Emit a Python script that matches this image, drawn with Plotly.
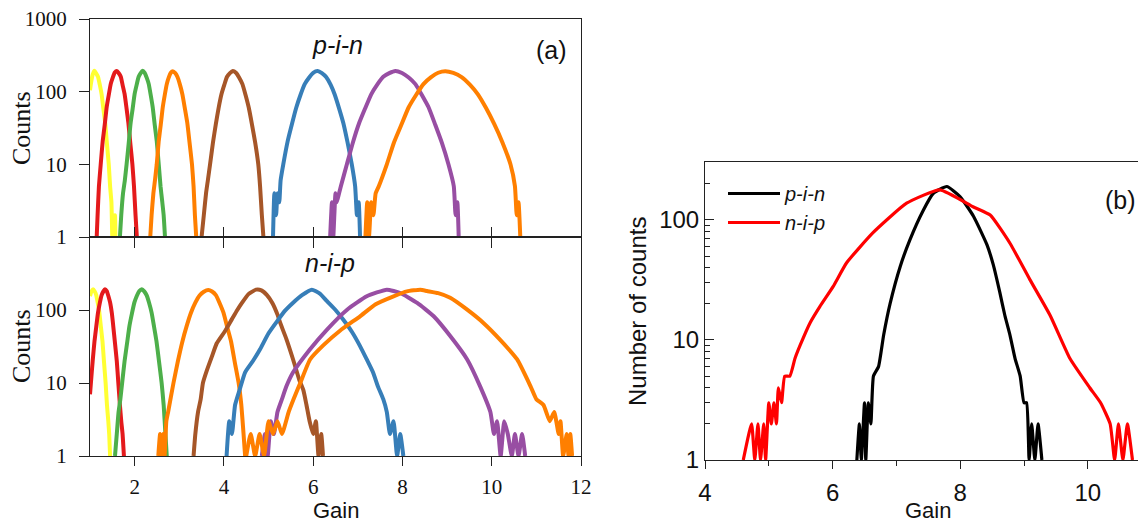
import plotly.graph_objects as go

# ---------------- colours (ColorBrewer Set1 as in the figure) ----------------
YELLOW, RED, GREEN, ORANGE = "#FFFF33", "#E41A1C", "#4DAF4A", "#FF7F00"
BROWN, BLUE, PURPLE = "#A65628", "#377EB8", "#984EA3"

# ---------------- panel (a) top : p-i-n gain distributions ----------------
pin_yellow_gain = [1.00, 1.03, 1.06, 1.10, 1.14, 1.18, 1.22, 1.26, 1.30, 1.34, 1.38, 1.42, 1.45, 1.48, 1.50, 1.52, 1.54, 1.56, 1.57]
pin_yellow_counts = [105, 140, 172, 194, 178, 160, 124, 92, 58, 37, 19, 10, 5, 3, 1, 2, 1, 2, 1]

pin_red_gain = [1.15, 1.17, 1.20, 1.24, 1.285, 1.33, 1.375, 1.42, 1.465, 1.51, 1.555, 1.60, 1.645, 1.69, 1.73, 1.775, 1.82, 1.86, 1.905, 1.95, 1.985, 2.02, 2.05]
pin_red_counts = [1, 2, 5, 10, 21, 35, 62, 90, 128, 156, 183, 192, 179, 160, 124, 93, 58, 37, 19, 10, 5, 2, 1]

pin_green_gain = [1.67, 1.70, 1.74, 1.78, 1.82, 1.865, 1.91, 1.955, 2.00, 2.045, 2.09, 2.135, 2.18, 2.225, 2.27, 2.315, 2.36, 2.405, 2.45, 2.495, 2.54, 2.58, 2.62, 2.65, 2.68]
pin_green_counts = [1, 2, 4, 6, 10, 19, 37, 58, 93, 124, 160, 180, 194, 182, 156, 128, 90, 61, 35, 21, 10, 5, 3, 2, 1]

pin_orange1_gain = [2.35, 2.38, 2.42, 2.455, 2.495, 2.54, 2.585, 2.63, 2.675, 2.72, 2.765, 2.81, 2.855, 2.91, 2.96, 3.015, 3.07, 3.125, 3.18, 3.23, 3.285, 3.32, 3.35, 3.38]
pin_orange1_counts = [1, 2, 4, 6, 10, 21, 35, 61, 90, 127, 157, 182, 191, 180, 159, 125, 92, 59, 37, 20, 10, 5, 2, 1]

pin_brown_gain = [3.50, 3.55, 3.60, 3.64, 3.69, 3.755, 3.82, 3.88, 3.945, 4.01, 4.07, 4.135, 4.20, 4.27, 4.34, 4.415, 4.485, 4.555, 4.63, 4.70, 4.77, 4.81, 4.85, 4.885]
pin_brown_counts = [1, 2, 4, 6, 10, 20, 36, 59, 92, 125, 160, 180, 193, 182, 157, 127, 90, 61, 35, 20, 10, 5, 2, 1]

pin_blue_gain = [5.10, 5.13, 5.17, 5.20, 5.24, 5.27, 5.33, 5.43, 5.52, 5.62, 5.715, 5.81, 5.91, 6.00, 6.10, 6.195, 6.29, 6.39, 6.48, 6.58, 6.675, 6.77, 6.865, 6.94, 6.98, 7.02, 7.05]
pin_blue_counts = [1, 4, 2, 4, 3, 6, 10, 21, 35, 60, 90, 127, 157, 182, 192, 180, 159, 125, 92, 59, 37, 20, 10, 5, 2, 3, 1]

pin_purple_gain = [6.38, 6.42, 6.45, 6.50, 6.53, 6.58, 6.62, 6.755, 6.89, 7.03, 7.165, 7.30, 7.435, 7.57, 7.705, 7.84, 7.99, 8.14, 8.29, 8.435, 8.585, 8.735, 8.88, 9.03, 9.15, 9.19, 9.23, 9.26]
pin_purple_counts = [1, 3, 1, 4, 3, 4, 5, 10, 20, 37, 59, 92, 125, 160, 180, 193, 181, 157, 127, 90, 61, 35, 20, 10, 5, 2, 3, 1]

pin_orange2_gain = [7.17, 7.21, 7.25, 7.30, 7.35, 7.40, 7.47, 7.65, 7.81, 7.975, 8.14, 8.305, 8.47, 8.635, 8.80, 8.96, 9.14, 9.325, 9.51, 9.69, 9.87, 10.055, 10.24, 10.42, 10.52, 10.56, 10.60, 10.64]
pin_orange2_counts = [1, 3, 1, 3, 2, 4, 5, 10, 20, 35, 61, 90, 127, 157, 182, 191, 181, 159, 125, 92, 60, 36, 20, 10, 5, 2, 3, 1]

# ---------------- panel (a) bottom : n-i-p gain distributions ----------------
nip_yellow_gain = [1.00, 1.03, 1.07, 1.105, 1.14, 1.175, 1.21, 1.245, 1.28, 1.315, 1.35, 1.38, 1.41, 1.43, 1.45]
nip_yellow_counts = [155, 178, 192, 180, 160, 124, 92, 58, 37, 19, 10, 5, 3, 2, 1]

nip_red_gain = [1.00, 1.02, 1.06, 1.10, 1.14, 1.18, 1.22, 1.26, 1.30, 1.336, 1.375, 1.41, 1.45, 1.49, 1.52, 1.56, 1.60, 1.635, 1.67, 1.70, 1.73, 1.76]
nip_red_counts = [7, 10, 20, 37, 59, 92, 125, 160, 180, 193, 182, 157, 127, 90, 61, 35, 20, 10, 5, 3, 2, 1]

nip_green_gain = [1.56, 1.60, 1.64, 1.68, 1.72, 1.775, 1.83, 1.885, 1.94, 1.995, 2.05, 2.105, 2.16, 2.215, 2.27, 2.325, 2.38, 2.435, 2.49, 2.545, 2.605, 2.65, 2.69, 2.72]
nip_green_counts = [1, 2, 4, 6, 10, 20, 35, 61, 90, 127, 157, 182, 193, 180, 159, 125, 92, 59, 37, 20, 10, 5, 2, 1]

nip_orange1_gain = [2.53, 2.57, 2.60, 2.64, 2.67, 2.71, 2.75, 2.87, 2.97, 3.065, 3.165, 3.26, 3.36, 3.455, 3.55, 3.65, 3.735, 3.82, 3.905, 3.99, 4.075, 4.16, 4.245, 4.33, 4.39, 4.44, 4.475]
nip_orange1_counts = [1, 2, 1, 2, 1, 3, 4, 10, 20, 36, 60, 91, 126, 158, 178, 188, 179, 160, 124, 92, 58, 37, 19, 10, 5, 2, 1]

nip_brown_gain = [3.32, 3.36, 3.42, 3.48, 3.53, 3.62, 3.73, 3.84, 4.03, 4.18, 4.30, 4.40, 4.55, 4.72, 4.84, 4.965, 5.085, 5.205, 5.26, 5.40, 5.55, 5.69, 5.78, 5.85, 5.92, 6.00, 6.06, 6.12, 6.18, 6.22]
nip_brown_counts = [1, 2, 4, 6, 10, 15, 23, 35, 52, 75, 100, 124, 165, 190, 186, 160, 125, 85, 67, 40, 21, 11, 8, 5, 3, 2, 3, 1, 2, 1]

nip_blue_gain = [4.06, 4.12, 4.18, 4.25, 4.35, 4.475, 4.65, 4.81, 5.00, 5.19, 5.37, 5.55, 5.75, 5.97, 6.15, 6.31, 6.50, 6.68, 6.87, 7.05, 7.20, 7.34, 7.45, 7.57, 7.65, 7.72, 7.80, 7.88, 7.95, 8.02]
nip_blue_counts = [1, 3, 2, 5, 8, 14, 20, 29, 48, 70, 98, 126, 160, 190, 168, 132, 100, 73, 50, 32, 21, 14, 9, 6, 4, 2, 3, 1, 2, 1]

nip_purple_gain = [4.85, 4.92, 4.98, 5.05, 5.12, 5.20, 5.30, 5.40, 5.55, 5.93, 6.31, 6.76, 7.20, 7.65, 7.95, 8.33, 8.70, 9.07, 9.45, 9.74, 9.97, 10.05, 10.12, 10.20, 10.28, 10.36, 10.45, 10.52, 10.60, 10.68, 10.75]
nip_purple_counts = [1, 2, 1, 3, 2, 4, 6, 9, 14, 29, 54, 101, 154, 190, 171, 125, 82, 44, 21, 9, 4, 2, 3, 1, 3, 2, 1, 2, 1, 2, 1]

nip_orange2_gain = [4.50, 4.60, 4.70, 4.80, 4.90, 5.00, 5.10, 5.20, 5.30, 5.45, 5.56, 5.71, 5.93, 6.23, 6.60, 7.05, 7.40, 7.80, 8.10, 8.40, 8.55, 8.80, 9.07, 9.45, 9.82, 10.19, 10.57, 10.87, 11.00, 11.16, 11.30, 11.40, 11.50, 11.54, 11.60, 11.68, 11.72, 11.76, 11.80]
nip_orange2_counts = [1, 2, 1, 2, 1, 3, 2, 3, 2, 4, 6, 10, 21, 33, 52, 82, 120, 154, 180, 190, 182, 170, 147, 101, 66, 39, 21, 9, 6, 5, 3, 4, 2, 3, 1, 2, 1, 2, 1]

# ---------------- panel (b) : comparison at similar mean gain ----------------
b_pin_gain = [6.38, 6.42, 6.45, 6.50, 6.52, 6.56, 6.60, 6.64, 6.72, 6.80, 6.90, 7.06, 7.21, 7.42, 7.58, 7.79, 8.00, 8.21, 8.42, 8.52, 8.62, 8.70, 8.78, 8.86, 8.94, 9.00, 9.04, 9.08, 9.12, 9.17, 9.22, 9.28]
b_pin_counts = [1, 2, 1, 3, 1, 3, 2, 5, 6, 11, 20, 41, 68, 120, 167, 190, 156, 107, 62, 42, 25, 16, 11, 7, 5, 3, 3, 1, 2, 1, 2, 1]

b_nip_gain = [4.60, 4.73, 4.78, 4.83, 4.87, 4.92, 4.95, 5.00, 5.04, 5.08, 5.12, 5.15, 5.20, 5.25, 5.33, 5.41, 5.49, 5.65, 5.80, 6.01, 6.22, 6.63, 7.16, 7.68, 8.20, 8.47, 8.78, 9.09, 9.41, 9.72, 10.03, 10.20, 10.35, 10.42, 10.48, 10.55, 10.62, 10.70]
b_nip_counts = [1, 2, 1, 2, 1, 2, 1, 3, 2, 3, 2, 4, 3, 5, 5, 7, 9, 14, 19, 28, 44, 78, 138, 178, 129, 110, 64, 32, 16, 7, 4, 3, 2, 1, 2, 1, 2, 1]

# tick labels
a_xticks = [2, 4, 6, 8, 10, 12]
a_top_yticks = [1, 10, 100, 1000]
a_bot_yticks = [1, 10, 100]
b_xticks = [4, 6, 8, 10]
b_xminor = [5, 7, 9]
b_yticks = [1, 10, 100]
b_yminor = [2, 3, 4, 5, 6, 7, 8, 9, 20, 30, 40, 50, 60, 70, 80, 90, 200, 300]

# The page body has an 8 px margin, so the figure is drawn 8 px in from the
# window corner; the figure is sized to fill the rest of the 1146x522 window.
OFF = 8
W, H = 1146 - OFF, 522 - OFF
SERIF = "Liberation Serif"
SANS = "Liberation Sans"
AX = "#222222"


def fx(px):
    return (px - OFF) / W


def fy(py):
    return 1 - (py - OFF) / H


fig = go.Figure()


def add(gx, cy, color, xa, ya, width=4.0, name=None, legend=False):
    fig.add_trace(go.Scatter(
        x=gx, y=cy, mode="lines", xaxis=xa, yaxis=ya, name=name,
        showlegend=legend, hoverinfo="skip",
        line=dict(color=color, width=width, shape="spline", smoothing=0.45)))


top = [(pin_yellow_gain, pin_yellow_counts, YELLOW), (pin_red_gain, pin_red_counts, RED),
       (pin_green_gain, pin_green_counts, GREEN), (pin_orange1_gain, pin_orange1_counts, ORANGE),
       (pin_brown_gain, pin_brown_counts, BROWN), (pin_blue_gain, pin_blue_counts, BLUE),
       (pin_purple_gain, pin_purple_counts, PURPLE), (pin_orange2_gain, pin_orange2_counts, ORANGE)]
bot = [(nip_yellow_gain, nip_yellow_counts, YELLOW), (nip_red_gain, nip_red_counts, RED),
       (nip_green_gain, nip_green_counts, GREEN), (nip_orange1_gain, nip_orange1_counts, ORANGE),
       (nip_brown_gain, nip_brown_counts, BROWN), (nip_blue_gain, nip_blue_counts, BLUE),
       (nip_purple_gain, nip_purple_counts, PURPLE), (nip_orange2_gain, nip_orange2_counts, ORANGE)]
for gx, cy, c in top:
    add(gx, cy, c, "x", "y")
for gx, cy, c in bot:
    add(gx, cy, c, "x2", "y2")
add(b_pin_gain, b_pin_counts, "#000000", "x3", "y3", width=3.2, name="<i>p-i-n</i>", legend=True)
add(b_nip_gain, b_nip_counts, "#FF0000", "x3", "y3", width=3.2, name="<i>n-i-p</i>", legend=True)

axcommon = dict(showgrid=False, zeroline=False, showline=True, linecolor=AX, linewidth=1,
                tickcolor=AX, automargin=False, ticklabeloverflow="allow")
ax_dom = [fx(90), fx(581)]

fig.update_layout(
    width=W, height=H, margin=dict(l=0, r=0, t=0, b=0, autoexpand=False),
    paper_bgcolor="white", plot_bgcolor="white",
    xaxis=dict(domain=ax_dom, range=[1, 12], anchor="y", tickvals=a_xticks, showticklabels=False,
               ticks="outside", ticklen=10, mirror=True, **axcommon),
    yaxis=dict(domain=[fy(237), fy(19)], type="log", range=[0, 3], anchor="x",
               tickvals=a_top_yticks, ticktext=[str(v) for v in a_top_yticks], ticks="outside", ticklen=10,
               mirror=True, ticklabelstandoff=8, tickfont=dict(family=SERIF, size=21, color="#111"), **axcommon),
    xaxis2=dict(domain=ax_dom, range=[1, 12], anchor="y2", tickvals=a_xticks,
                ticks="outside", ticklen=9, mirror="ticks", ticklabelstandoff=3,
                tickfont=dict(family=SERIF, size=21, color="#111"), **axcommon),
    yaxis2=dict(domain=[fy(456), fy(237)], type="log", range=[0, 3], anchor="x2",
                tickvals=a_bot_yticks, ticktext=[str(v) for v in a_bot_yticks], ticks="outside", ticklen=10,
                mirror=True, ticklabelstandoff=8, tickfont=dict(family=SERIF, size=21, color="#111"), **axcommon),
    xaxis3=dict(domain=[fx(705), 1.0], range=[4, 10.912], anchor="y3", tickvals=b_xticks,
                ticks="outside", ticklen=8, mirror=True, ticklabelstandoff=3,
                minor=dict(tickvals=b_xminor, ticks="outside", ticklen=5, tickcolor=AX),
                tickfont=dict(family=SANS, size=24, color="#111"), **axcommon),
    yaxis3=dict(domain=[fy(460), fy(162)], type="log", range=[0, 2.483], anchor="x3",
                tickvals=b_yticks, ticktext=[str(v) for v in b_yticks], ticks="inside", ticklen=9,
                minor=dict(tickvals=b_yminor, ticks="inside", ticklen=5, tickcolor=AX),
                tickfont=dict(family=SANS, size=24, color="#111"), **axcommon),
    legend=dict(x=fx(723), y=fy(174), xanchor="left", yanchor="top", bgcolor="rgba(0,0,0,0)",
                font=dict(family=SANS, size=20, color="#111"), itemwidth=52, tracegroupgap=0),
    showlegend=True,
)


def note(text, px, py, size, family=SANS, angle=0):
    fig.add_annotation(text=text, x=fx(px), y=fy(py), xref="paper", yref="paper",
                       showarrow=False, textangle=angle, xanchor="center", yanchor="middle",
                       font=dict(family=family, size=size, color="#111"))


note("Counts", 21, 128, 26, SERIF, -90)
note("Counts", 21, 346, 26, SERIF, -90)
note("Gain", 336, 510, 22)
note("<i>p-i-n</i>", 337, 45, 25)
note("(a)", 551, 50, 25)
note("<i>n-i-p</i>", 330, 263, 25)
note("Number of counts", 637, 312, 24, SANS, -90)
note("Gain", 928, 510, 22)
note("(b)", 1120, 200, 25)

fig.write_html("out.html")
